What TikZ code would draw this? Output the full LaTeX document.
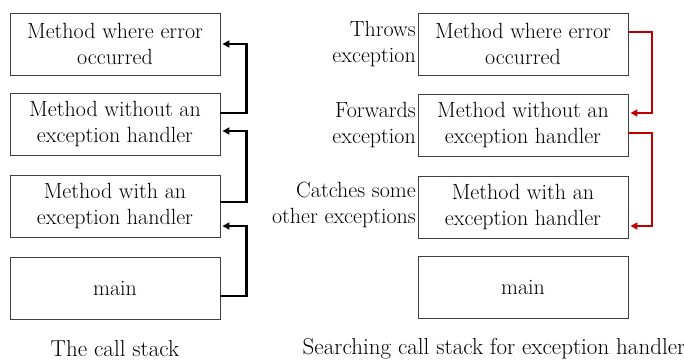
\documentclass[tikz,border=0pt]{standalone}
\usepackage{fontspec}
\usetikzlibrary{arrows.meta}
\definecolor{fwdred}{HTML}{C00000}
\newcommand{\lblfont}{\rmfamily\fontsize{22}{26}\selectfont}
\newcommand{\capfont}{\rmfamily\fontsize{23}{26}\selectfont}
\begin{document}
\begin{tikzpicture}[x=1pt,y=-1pt,
  box/.style={draw=black!75, line width=0.9pt, minimum width=210pt, minimum height=62pt,
    align=center, inner sep=0pt, font=\lblfont},
  note/.style={anchor=east, align=right, inner sep=0pt, font=\lblfont},
  caption/.style={inner sep=0pt, font=\capfont},
  callarrow/.style={line width=2.4pt, draw=black, -{Triangle[length=7pt,width=7pt]}, shorten >=2pt},
  searcharrow/.style={line width=2pt, draw=fwdred, -{Triangle[length=7pt,width=7pt]}, shorten >=2pt}]
\useasboundingbox (0,0) rectangle (684,362);

% the call stack
\node[box] (l1) at (115,44) {Method where error\\occurred};
\node[box] (l2) at (115,124) {Method without an\\exception handler};
\node[box] (l3) at (115,206) {Method with an\\exception handler};
\node[box] (l4) at (115,288) {main};
\node[caption] (c1) at (115,349) {The call stack};

\draw[callarrow] ([yshift=11pt]l2.east) -- ++(26,0) |- (l1.east);
\draw[callarrow] ([yshift=4pt]l3.east) -- ++(26,0) |- ([yshift=-7pt]l2.east);
\draw[callarrow] ([yshift=-8pt]l4.east) -- ++(26,0) |- ([yshift=-20pt]l3.east);

% searching the stack
\node[box] (r1) at (523,44) {Method where error\\occurred};
\node[box] (r2) at (523,125) {Method without an\\exception handler};
\node[box] (r3) at (523,207) {Method with an\\exception handler};
\node[box] (r4) at (523,287) {main};
\node[caption] (c2) at (494,349) {Searching call stack for exception handler};

\node[note] (n1) at (416,44) {Throws\\exception};
\node[note] (n2) at (416,125) {Forwards\\exception};
\node[note] (n3) at (416,205) {Catches some\\other exceptions};

\draw[searcharrow] ([yshift=12pt]r1.east) -- ++(24,0) |- ([yshift=12pt]r2.east);
\draw[searcharrow] ([yshift=-8pt]r2.east) -- ++(24,0) |- ([yshift=-19pt]r3.east);
\end{tikzpicture}
\end{document}
